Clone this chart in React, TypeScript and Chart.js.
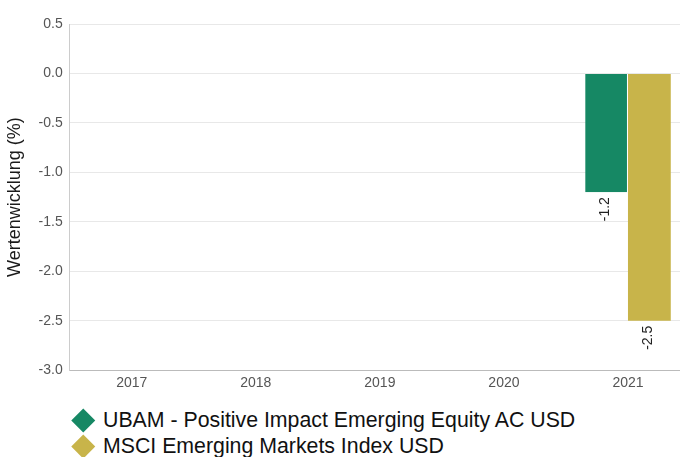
import React, { useEffect, useRef } from "react";
import { Chart, registerables } from "chart.js";

Chart.register(...registerables);

const categories = ["2017", "2018", "2019", "2020", "2021"];
const fundValues = [null, null, null, null, -1.2];
const indexValues = [null, null, null, null, -2.5];
const fundName = "UBAM - Positive Impact Emerging Equity AC USD";
const indexName = "MSCI Emerging Markets Index USD";
const yTitle = "Wertenwicklung (%)";
const fundColor = "#168864";
const indexColor = "#C8B44A";

const FONT = "'Liberation Sans', Arial, sans-serif";

const labelPlugin = {
  id: "barLabels",
  afterDatasetsDraw(chart: any) {
    const ctx = chart.ctx;
    chart.data.datasets.forEach((ds: any, di: number) => {
      const meta = chart.getDatasetMeta(di);
      meta.data.forEach((bar: any, i: number) => {
        const v = ds.data[i];
        if (v === null || v === undefined) return;
        ctx.save();
        ctx.translate(bar.x - 1, bar.y + 5);
        ctx.rotate(-Math.PI / 2);
        ctx.font = `14px ${FONT}`;
        ctx.fillStyle = "#222";
        ctx.textAlign = "right";
        ctx.textBaseline = "middle";
        ctx.fillText(v.toFixed(1), 0, 0);
        ctx.restore();
      });
    });
  },
};

const legendItems = [
  { name: fundName, color: fundColor },
  { name: indexName, color: indexColor },
];

export default function App() {
  const ref = useRef<HTMLCanvasElement>(null);
  useEffect(() => {
    if (!ref.current) return;
    const chart = new Chart(ref.current, {
      type: "bar",
      data: {
        labels: categories,
        datasets: [
          {
            label: fundName,
            data: fundValues,
            backgroundColor: fundColor,
            borderColor: "#ffffff",
            borderWidth: { left: 0, right: 1, top: 0, bottom: 0 },
            borderSkipped: false,
            categoryPercentage: 0.69,
            barPercentage: 1.0,
          } as any,
          {
            label: indexName,
            data: indexValues,
            backgroundColor: indexColor,
            borderWidth: 0,
            categoryPercentage: 0.69,
            barPercentage: 1.0,
          } as any,
        ],
      },
      options: {
        responsive: false,
        maintainAspectRatio: false,
        animation: false,
        layout: { padding: { top: 24, right: 0, left: 0, bottom: 5 } },
        plugins: {
          tooltip: { enabled: false },
          legend: { display: false },
        },
        scales: {
          x: {
            grid: { display: false, drawTicks: false },
            border: { color: "#bbbbbb" },
            ticks: { color: "#555", padding: 5, font: { family: FONT, size: 14 } },
          },
          y: {
            min: -3,
            max: 0.5,
            ticks: {
              stepSize: 0.5,
              padding: 7,
              color: "#555",
              font: { family: FONT, size: 14 },
              callback: (v: any) => Number(v).toFixed(1),
            },
            grid: { color: "#e8e8e8", drawTicks: false },
            border: { color: "#cccccc" },
            title: {
              display: true,
              text: yTitle,
              color: "#1a1a1a",
              font: { family: FONT, size: 18 },
              padding: { top: 4, bottom: 6 },
            },
          },
        },
      },
      plugins: [labelPlugin],
    });
    return () => chart.destroy();
  }, []);
  return (
    <div
      style={{
        position: "fixed",
        left: 0,
        top: 0,
        width: 680,
        height: 457,
        overflow: "hidden",
        fontFamily: FONT,
        background: "#fff",
      }}
    >
      <canvas ref={ref} width={690} height={402} style={{ display: "block", width: 690, height: 402 }} />
      <div style={{ marginTop: 5, paddingLeft: 75 }}>
        {legendItems.map((it) => (
          <div
            key={it.name}
            style={{ display: "flex", alignItems: "center", height: 26, fontSize: 21.3, color: "#111", whiteSpace: "nowrap" }}
          >
            <span
              style={{
                display: "inline-block",
                width: 16.5,
                height: 16.5,
                background: it.color,
                transform: "rotate(45deg)",
                marginRight: 11.5,
                flex: "none",
              }}
            />
            <span>{it.name}</span>
          </div>
        ))}
      </div>
    </div>
  );
}
